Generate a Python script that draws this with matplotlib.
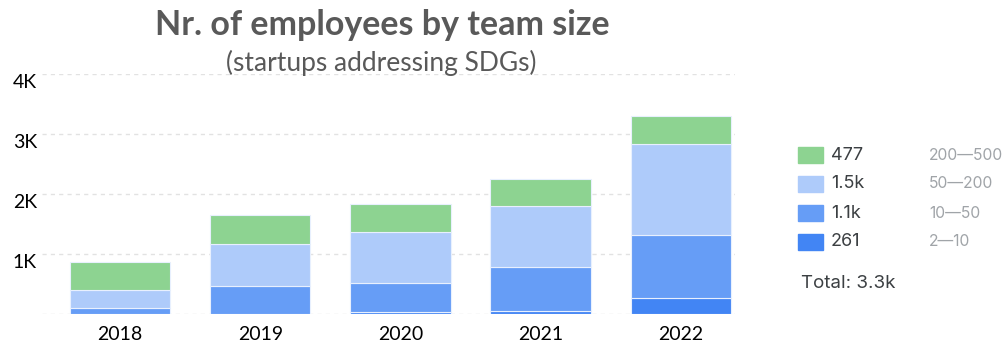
import numpy as np
import matplotlib.pyplot as plt
import matplotlib.transforms as mtransforms
from matplotlib.patches import Rectangle

years = ['2018', '2019', '2020', '2021', '2022']
size_ranges = ['2—10', '10—50', '50—200', '200—500']
emp_2_10 = [4, 5, 33, 58, 261]
emp_10_50 = [95, 460, 476, 718, 1060]
emp_50_200 = [303, 697, 862, 1012, 1500]
emp_200_500 = [459, 481, 453, 459, 477]
colors = ['#4285f4', '#669df6', '#aecbfa', '#8dd391']


def short(v):
    return str(int(v)) if v < 1000 else f'{v / 1000:.1f}k'


W, H = 1004, 352
fig = plt.figure(figsize=(W / 100, H / 100), dpi=100)
ax = fig.add_axes([41.8 / W, 38 / H, 693.5 / W, 240.5 / H])

series = [emp_2_10, emp_10_50, emp_50_200, emp_200_500]
x = np.arange(len(years))
bottom = np.zeros(len(years))
for vals, c in zip(series, colors):
    ax.bar(x, vals, 0.715, bottom=bottom, color=c, edgecolor='#e8f0fe',
           linewidth=0.8, zorder=2)
    bottom += np.array(vals)

ax.set_xlim(-0.56, 4.39)
ax.set_ylim(0, 4000)
ax.set_yticks([0, 1000, 2000, 3000, 4000])
ax.set_yticklabels(['', '1K', '2K', '3K', '4K'], fontsize=14, family='Lato')
ax.set_xticks(x)
ax.set_xticklabels(years, fontsize=14, family='Lato')
ax.tick_params(length=0)
ax.tick_params(axis='y', pad=3.5)
ax.tick_params(axis='x', pad=9)
# y labels sit a little below their gridlines
offset = mtransforms.ScaledTranslation(0, -7 / 100, fig.dpi_scale_trans)
for lab in ax.get_yticklabels():
    lab.set_transform(lab.get_transform() + offset)
ax.yaxis.grid(True, color='#e2e2e2', linestyle=(0, (3, 3)), linewidth=1, zorder=0)
for s in ax.spines.values():
    s.set_visible(False)

fig.text(382 / W, 1 - 25 / H, 'Nr. of employees by team size', ha='center', va='center',
         fontsize=24.5, weight='bold', color='#595959', family='Lato')
fig.text(381 / W, 1 - 63 / H, '(startups addressing SDGs)', ha='center', va='center',
         fontsize=19, color='#595959', family='Lato')

# legend, largest team size on top, values from the latest year
for i, k in enumerate(range(3, -1, -1)):
    yc = 155 + 29 * i
    fig.patches.append(Rectangle((798 / W, 1 - (yc + 8.3) / H), 25 / W, 16.6 / H,
                                 transform=fig.transFigure, color=colors[k]))
    fig.text(831 / W, 1 - yc / H, short(series[k][-1]), ha='left', va='center',
             fontsize=13, color='#3c4043', family='Inter')
    fig.text(929 / W, 1 - yc / H, size_ranges[k], ha='left', va='center',
             fontsize=11.3, color='#a0a4a8', family='Inter')
total = sum(s[-1] for s in series)
fig.text(801 / W, 1 - 283 / H, f'Total: {short(total)}', ha='left', va='center',
         fontsize=13.5, color='#3c4043', family='Inter')

fig.savefig('out.png', dpi=100)
